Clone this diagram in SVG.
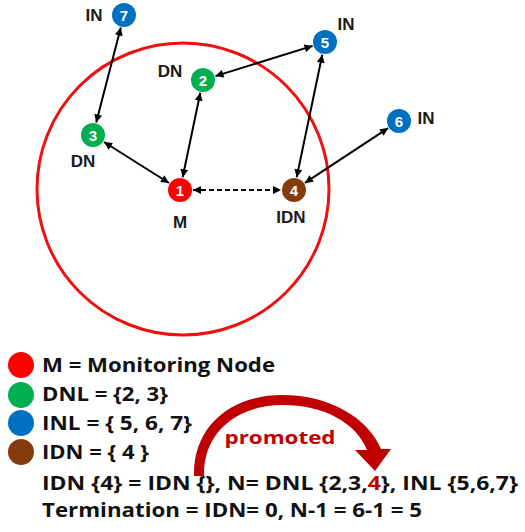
<svg xmlns="http://www.w3.org/2000/svg" width="525" height="532" viewBox="0 0 525 532">
<style>
.lbl{font-family:"Liberation Sans",Arial,sans-serif;font-weight:bold;font-size:17px;fill:#1a1a1a;text-anchor:middle}
.num{font-family:"Liberation Sans",Arial,sans-serif;font-weight:bold;font-size:15px;fill:#ffffff;text-anchor:middle}
.leg{font-family:"Open Sans","Liberation Sans",Arial,sans-serif;font-weight:bold;font-size:19px;fill:#111111}
.edge{stroke:#000;stroke-width:2;fill:none;marker-start:url(#ah);marker-end:url(#ah)}
.red{fill:#FF0000}.green{fill:#00B050}.blue{fill:#0070C0}.brown{fill:#843C0C}
</style>
<defs>
<marker id="ah" viewBox="0 0 10 10" refX="10" refY="5" markerWidth="9" markerHeight="8" markerUnits="userSpaceOnUse" orient="auto-start-reverse">
<path d="M0,0 L10,5 L0,10 Z" fill="#000"/>
</marker>
</defs>
<rect width="525" height="532" fill="#fff"/>
<circle cx="183" cy="189" r="146" fill="none" stroke="#F01010" stroke-width="3"/>
<g id="connectors">
<line class="edge" x1="120.8" y1="27.6" x2="96.2" y2="122.4"/>
<line class="edge" x1="104" y1="142" x2="169" y2="183"/>
<line class="edge" x1="182.7" y1="177.3" x2="200.3" y2="92.7"/>
<line class="edge" x1="215.4" y1="76.1" x2="312.6" y2="45.9"/>
<line class="edge" x1="322.3" y1="54.7" x2="296.7" y2="177.3"/>
<line class="edge" x1="388.1" y1="128.1" x2="304.9" y2="182.9"/>
<line class="edge" x1="193" y1="190" x2="281" y2="190" stroke-dasharray="5,3"/>
</g>
<g id="node1"><circle class="red" cx="180" cy="190" r="12"/><text class="num" x="180" y="195.5">1</text><text class="lbl" x="180" y="228">M</text></g>
<g id="node2"><circle class="green" cx="203" cy="80" r="12"/><text class="num" x="203" y="85.5">2</text><text class="lbl" x="170" y="77">DN</text></g>
<g id="node3"><circle class="green" cx="93" cy="135" r="12"/><text class="num" x="93" y="140.5">3</text><text class="lbl" x="83" y="167">DN</text></g>
<g id="node4"><circle class="brown" cx="294" cy="190" r="12"/><text class="num" x="294" y="195.5">4</text><text class="lbl" x="291" y="223">IDN</text></g>
<g id="node5"><circle class="blue" cx="325" cy="42" r="12"/><text class="num" x="325" y="47.5">5</text><text class="lbl" x="346" y="30">IN</text></g>
<g id="node6"><circle class="blue" cx="399" cy="121" r="12"/><text class="num" x="399" y="126.5">6</text><text class="lbl" x="426" y="124">IN</text></g>
<g id="node7"><circle class="blue" cx="124" cy="15" r="12"/><text class="num" x="124" y="20.5">7</text><text class="lbl" x="94" y="21">IN</text></g>
<g id="legend">
<circle class="red" cx="21" cy="365" r="13"/>
<circle class="green" cx="21" cy="395" r="13"/>
<circle class="blue" cx="21" cy="423" r="13"/>
<circle class="brown" cx="21" cy="452" r="13"/>
<text class="leg" x="42" y="372" textLength="233" lengthAdjust="spacingAndGlyphs">M = Monitoring Node</text>
<text class="leg" x="42" y="401" textLength="126" lengthAdjust="spacingAndGlyphs">DNL = {2, 3}</text>
<text class="leg" x="42" y="430" textLength="150" lengthAdjust="spacingAndGlyphs">INL = { 5, 6, 7}</text>
<text class="leg" x="42" y="459" textLength="107" lengthAdjust="spacingAndGlyphs">IDN = { 4 }</text>
<text class="leg" x="42" y="490" textLength="476" lengthAdjust="spacingAndGlyphs">IDN {4} = IDN {}, N=  DNL {2,3,<tspan fill="#C00000">4</tspan>}, INL {5,6,7}</text>
<text class="leg" x="42" y="517" textLength="380" lengthAdjust="spacingAndGlyphs">Termination = IDN= 0, N-1 = 6-1 = 5</text>
</g>
<g id="promoted">
<path d="M194,476 C193,425 232,395 282,395 C330,395 368,418 381,449 L391,449 L375,471 L355,450 L367,450 C356,423 325,405 282,405 C240,405 203,430 204,476 Z" fill="#C00000"/>
<text x="280" y="444" text-anchor="middle" font-family="Open Sans,Liberation Sans,Arial,sans-serif" font-weight="bold" font-size="18" fill="#C00000" textLength="111" lengthAdjust="spacingAndGlyphs">promoted</text>
</g>
</svg>
